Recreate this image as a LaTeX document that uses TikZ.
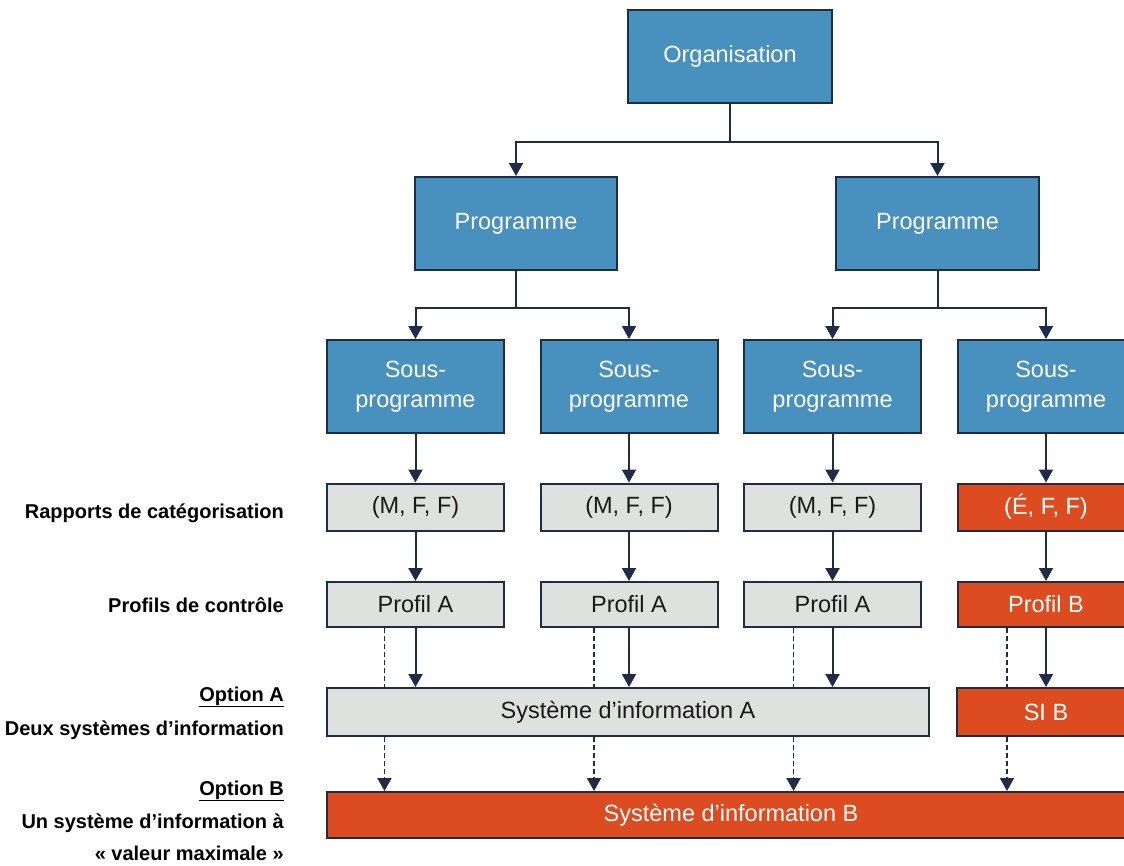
\documentclass[tikz,border=0pt]{standalone}
\usepackage{fontspec}
\setmainfont{Liberation Sans}
\usetikzlibrary{arrows.meta}

\definecolor{progblue}{RGB}{72,144,190}
\definecolor{navy}{RGB}{30,44,72}
\definecolor{catgrey}{RGB}{223,225,223}
\definecolor{catred}{RGB}{221,75,32}

\tikzset{
  box/.style={draw=navy, line width=2pt, inner sep=0pt, align=center,
    font=\fontsize{23.5}{30}\selectfont},
  bluebox/.style={box, fill=progblue, text=white, minimum height=93pt},
  greybox/.style={box, fill=catgrey, text=black!90, minimum height=47pt},
  redbox/.style={box, fill=catred, text=white, minimum height=47pt},
  link/.style={draw=navy, line width=2pt},
  tip/.style={-{Triangle[length=13pt,width=14pt]}},
  arr/.style={link, tip},
  dashlink/.style={draw=navy, line width=1.8pt, dash pattern=on 5pt off 3pt},
  lbl/.style={anchor=base east, inner sep=0pt, font=\bfseries\fontsize{20}{22}\selectfont}
}

\begin{document}
\begin{tikzpicture}[x=1pt, y=-1pt]
\useasboundingbox (0,0) rectangle (1124,865);

% top of the tree
\node[bluebox, minimum width=204pt] (org) at (730,56) {Organisation};
\node[bluebox, minimum width=202pt] (progL) at (516,223.5) {Programme};
\node[bluebox, minimum width=203pt] (progR) at (937.5,223.5) {Programme};

\node[bluebox, minimum width=177pt] (sp1) at (415.5,386.5) {Sous-\\programme};
\node[bluebox, minimum width=177pt] (sp2) at (629,386.5) {Sous-\\programme};
\node[bluebox, minimum width=177pt] (sp3) at (832.5,386.5) {Sous-\\programme};
\node[bluebox, minimum width=177pt] (sp4) at (1046,386.5) {Sous-\\programme};

% categorisation and profiles
\node[greybox, minimum width=177pt] (cat1) at (415.5,507) {(M, F, F)};
\node[greybox, minimum width=177pt] (cat2) at (629,507) {(M, F, F)};
\node[greybox, minimum width=177pt] (cat3) at (832.5,507) {(M, F, F)};
\node[redbox, minimum width=177pt] (cat4) at (1046,507) {(É, F, F)};

\node[greybox, minimum width=177pt, minimum height=45pt] (pr1) at (415.5,604.5) {Profil A};
\node[greybox, minimum width=177pt, minimum height=45pt] (pr2) at (629,604.5) {Profil A};
\node[greybox, minimum width=177pt, minimum height=45pt] (pr3) at (832.5,604.5) {Profil A};
\node[redbox, minimum width=177pt, minimum height=45pt] (pr4) at (1046,604.5) {Profil B};

% information systems
\node[greybox, minimum width=602pt, minimum height=48pt] (siA) at (628,712) {Système d’information A};
\node[redbox, minimum width=178pt, minimum height=48pt] (siBs) at (1046,712) {SI B};
\node[redbox, minimum width=808pt, minimum height=46pt] (siB) at (731,815) {Système d’information B};

% connectors
\draw[arr] (org.south) -- ++(0,38) -| (progL.north);
\draw[arr] (org.south) -- ++(0,38) -| (progR.north);
\draw[arr] (progL.south) -- ++(0,37) -| (sp1.north);
\draw[arr] (progL.south) -- ++(0,37) -| (sp2.north);
\draw[arr] (progR.south) -- ++(0,37) -| (sp3.north);
\draw[arr] (progR.south) -- ++(0,37) -| (sp4.north);

\foreach \i in {1,...,4} {
  \draw[arr] (sp\i.south) -- (cat\i.north);
  \draw[arr] (cat\i.south) -- (pr\i.north);
}
\foreach \i in {1,2,3}
  \draw[arr] (pr\i.south) -- (pr\i.south |- siA.north);
\draw[arr] (pr4.south) -- (pr4.south |- siBs.north);

\foreach \i/\dx/\t in {1/31/siA, 2/35/siA, 3/39/siA, 4/39/siBs} {
  \coordinate (d\i) at ([xshift=-\dx pt]pr\i.south);
  \draw[dashlink] (d\i) -- (d\i |- \t.north);
  \draw[dashlink, tip] (d\i |- \t.south) -- (d\i |- siB.north);
}

% row labels
\node[lbl] (lcat) at (284,518) {Rapports de catégorisation};
\node[lbl] (lprof) at (284,612) {Profils de contrôle};
\node[lbl] (lopta) at (284,701) {\underline{Option A}};
\node[lbl] (ldeux) at (284,735) {Deux systèmes d’information};
\node[lbl] (loptb) at (284,795) {\underline{Option B}};
\node[lbl] (lun) at (284,828) {Un système d’information à};
\node[lbl] (lval) at (284,860) {« valeur maximale »};
\end{tikzpicture}
\end{document}
